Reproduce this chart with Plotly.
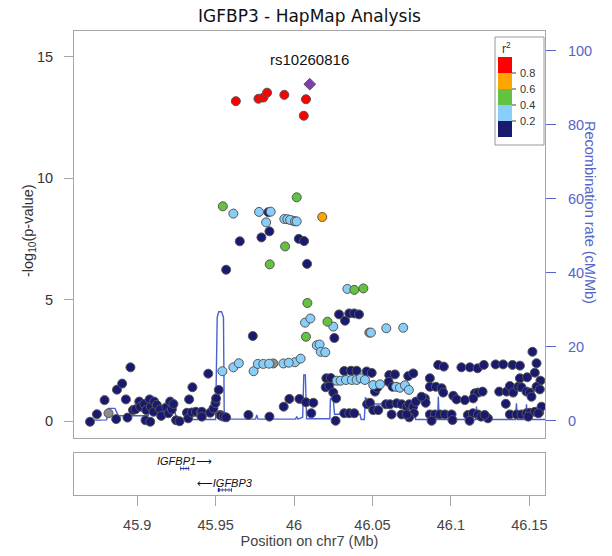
import plotly.graph_objects as go

# ---------------- data ----------------
index_snp = "rs10260816"
index_pos = [46.0100]
index_logp = [13.87]

red_pos = [45.9629, 45.9773, 45.9805, 45.9828, 45.9938, 46.0076, 46.0062]
red_logp = [13.17, 13.27, 13.32, 13.52, 13.43, 13.25, 12.57]

orange_pos = [46.0180]
orange_logp = [8.40]

green_pos = [45.9546, 46.0017, 45.9943, 45.9845, 46.0085, 46.0076, 46.0213, 46.0384, 46.0442]
green_logp = [8.84, 9.21, 7.19, 6.45, 4.86, 3.47, 4.09, 5.40, 5.46]

lblue_pos = [45.9613, 45.9777, 45.9851, 45.9822, 45.9938, 45.9957, 45.9975, 46.0006, 46.0017,
             46.0070, 46.0104, 46.0250, 46.0340, 46.0490, 46.0588, 46.0696,
             46.0145, 46.0163, 46.0170, 46.0199, 46.0006, 46.0042,
             45.9543, 45.9613, 45.9648, 45.9742, 45.9769, 45.9804, 45.9841, 45.9932, 45.9966,
             46.0272, 46.0297, 46.0331, 46.0368, 46.0399, 46.0425, 46.0452,
             46.0505, 46.0548, 46.0650, 46.0675, 46.0707, 46.0732]
lblue_logp = [8.54, 8.61, 8.62, 8.18, 8.32, 8.31, 8.28, 8.22, 8.22,
              4.05, 4.22, 3.89, 5.44, 3.64, 3.82, 3.84,
              3.12, 3.15, 2.85, 2.83, 2.42, 2.57,
              2.05, 2.21, 2.38, 2.05, 2.35, 2.35, 2.36, 2.37, 2.40,
              1.66, 1.66, 1.69, 1.69, 1.69, 1.76, 1.69,
              1.48, 1.51, 1.41, 1.37, 1.47, 1.28]

gray_pos = [45.8817, 45.9868, 46.0480]
gray_logp = [0.32, 2.37, 3.64]

navy_pos = [45.9843, 45.9654, 45.9792, 46.0030, 46.0064, 45.9567, 46.0083, 45.9836, 45.9992,
            45.9737, 46.0287, 46.0325, 46.0352, 46.0384, 46.0414, 46.0257,
            45.8699, 45.8743, 45.8792, 45.8866, 45.8871, 45.8904, 45.8928, 45.8938, 45.8957,
            45.8973, 45.8989, 45.9013, 45.9019, 45.9045, 45.9053, 45.9057, 45.9079, 45.9083,
            45.9087, 45.9104, 45.9108, 45.9125, 45.9146, 45.9153, 45.9185, 45.9199, 45.9210,
            45.9221, 45.9231, 45.9248, 45.9270, 45.9317, 45.9325, 45.9331, 45.9348, 45.9352,
            45.9374, 45.9406, 45.9408, 45.9412, 45.9412, 45.9453, 45.9465, 45.9486, 45.9499,
            45.9503, 45.9520, 45.9529, 45.9533, 45.9550, 45.9567, 45.9709, 45.9843, 45.9934,
            45.9970, 46.0034, 46.0076, 46.0110, 46.0123,
            46.0265, 46.0202, 46.0225, 46.0250, 46.0268, 46.0206, 46.0234,
            46.0320, 46.0363, 46.0399, 46.0463, 46.0495, 46.0320, 46.0352, 46.0384,
            46.0466, 46.0484, 46.0505, 46.0537, 46.0516, 46.0530, 46.0607, 46.0643, 46.0603,
            46.0628, 46.0586, 46.0611, 46.0654, 46.0686, 46.0718, 46.0734, 46.0760, 46.0777,
            46.0764, 46.0734, 46.0728, 46.0760, 46.0622, 46.0686, 46.0718,
            46.0866, 46.0866, 46.0834, 46.0839, 46.0904, 46.0941, 46.0951, 46.1015, 46.1036,
            46.0813, 46.0919, 46.0955, 46.1067, 46.1121, 46.1170, 46.1210, 46.1285, 46.1333,
            46.1393, 46.1440, 46.1520, 46.1546, 46.1440, 46.1486, 46.1535, 46.1571,
            46.1308, 46.1355, 46.1376, 46.1397, 46.1429, 46.1450, 46.1482, 46.1503, 46.1514,
            46.1546, 46.1567, 46.1153, 46.1174, 46.1202, 46.1142, 46.1089, 46.1350,
            46.0866, 46.0898, 46.0930, 46.0962, 46.0877, 46.1004, 46.1010, 46.1108, 46.1140,
            46.1172, 46.1193, 46.1119, 46.1236, 46.1215,
            46.1376, 46.1419, 46.1450, 46.1482, 46.1503, 46.1535, 46.1563, 46.1578, 46.1493, 46.1557]
navy_logp = [7.81, 7.40, 7.56, 7.50, 7.41, 6.23, 6.47, 8.60, 8.25,
             3.50, 4.39, 4.13, 4.43, 4.43, 4.39, 3.42,
             -0.03, 0.28, 0.86, 0.08, 1.29, 1.54, 0.89, 0.14, 2.21,
             0.45, 0.48, 0.80, 0.59, 0.70, 0.03, 0.45, 0.89, -0.03,
             0.59, 0.38, 0.80, 0.66, 0.48, 0.21, 0.56, 0.32, 0.80,
             0.48, 0.70, 0.03, -0.01, 0.34, 0.11, 0.89, 0.35, 1.39,
             0.38, 0.35, 0.22, 0.38, 0.18, 1.95, 0.34, 0.52, 0.74,
             0.93, 1.28, 0.25, 0.22, 0.18, 0.15, 0.25, 0.18, 0.59,
             0.91, 0.91, 0.77, 0.32, 0.75,
             0.01, 1.39, 1.44, 1.17, 0.93, 1.76, 1.77,
             2.06, 2.07, 2.07, 2.04, 1.98, 0.32, 0.32, 0.32,
             0.69, 0.75, 0.45, 0.45, 1.21, 1.37, 1.89, 1.92, 1.61,
             1.41, 0.69, 0.69, 0.73, 0.69, 0.59, 0.69, 0.59, 0.80,
             0.32, 0.15, 1.85, 1.96, 0.27, 0.27, 0.27,
             1.76, 1.41, 0.93, 0.75, 1.41, 1.35, 1.17, 1.04, 0.89,
             1.00, 2.31, 2.24, 2.21, 2.21, 2.17, 2.31, 2.33, 2.33,
             2.31, 2.28, 2.85, 2.38, 1.76, 1.80, 1.99, 1.66,
             1.21, 1.21, 1.44, 1.17, 1.41, 1.39, 1.21, 1.17, 1.00,
             1.41, 1.30, 1.14, 1.17, 1.21, 0.93, 0.86, 0.71,
             0.27, 0.27, 0.27, 0.27, 0.01, 0.27, 0.04, 0.25, 0.32,
             0.27, 0.18, 0.01, 0.11, 0.25,
             0.27, 0.27, 0.27, 0.32, 0.34, 0.38, 0.35, 0.59, 0.18, 0.32]

recomb_pos = [45.8697, 45.8805, 45.8817, 45.8858, 45.8880, 45.9070, 45.9075, 45.9242, 45.9253,
              45.9500, 45.9510, 45.9520, 45.9538, 45.9550, 45.9555, 45.9755, 45.9762, 45.9770,
              46.0010, 46.0017, 46.0025, 46.0055, 46.0062, 46.0072, 46.0080, 46.0228, 46.0232,
              46.0250, 46.0258, 46.0420, 46.0428, 46.0448, 46.0455, 46.0500, 46.0510, 46.0715,
              46.0722, 46.0770, 46.0775, 46.0915, 46.0920, 46.0925, 46.1158, 46.1163, 46.1168,
              46.1412, 46.1418, 46.1424, 46.1476, 46.1482, 46.1488, 46.1600]
recomb_rate = [0.2, 0.3, 3.4, 3.4, 1.4, 1.4, 2.2, 2.2, 0.4,
               0.4, 28.0, 29.5, 29.5, 28.0, 0.5, 0.5, 1.6, 0.5,
               0.5, 1.2, 0.5, 1.0, 12.4, 12.4, 0.6, 0.6, 6.0,
               6.0, 1.8, 1.8, 0.4, 0.4, 6.2, 5.2, 4.6, 4.6,
               1.8, 1.6, 0.4, 0.4, 6.6, 0.4, 0.4, 3.9, 0.4,
               0.4, 4.8, 0.4, 0.4, 4.5, 0.4, 0.4]

gene_names = ["IGFBP1", "IGFBP3"]
gene_start = [45.9275, 45.9514]
gene_end = [45.9331, 45.9603]
gene_strand = ["+", "-"]
gene_exons = [
    [(45.9275, 45.9280), (45.9292, 45.9295), (45.9310, 45.9313), (45.9326, 45.9331)],
    [(45.9514, 45.9526), (45.9540, 45.9543), (45.9560, 45.9563), (45.9584, 45.9587), (45.9598, 45.9603)],
]

legend_breaks = ["0.8", "0.6", "0.4", "0.2"]
x_ticks = [45.9, 45.95, 46.0, 46.05, 46.1, 46.15]
x_tick_text = ["45.9", "45.95", "46", "46.05", "46.1", "46.15"]
y_ticks = [0, 5, 10, 15]
r_ticks = [0, 20, 40, 60, 80, 100]

# ---------------- styles ----------------
C_NAVY = "#191970"
C_LBLUE = "#87CEFA"
C_GREEN = "#63c23f"
C_ORANGE = "#FFA500"
C_RED = "#FF0000"
C_GRAY = "#8c8c8c"
C_PURPLE = "#7e3fb0"
C_RECOMB = "#4a62d0"
C_RAXIS = "#5565c8"
C_GENE = "#1f2f9a"
OUTLINE = "#555555"
AXLINE = "#a6a6a6"
FONT = "Liberation Sans, Arial, sans-serif"

W, H = 612, 556
ML, MR, MT, MB = 74, 67, 31, 61
PW, PH = W - ML - MR, H - MT - MB


def px(x):
    return (x - ML) / PW


def py(y):
    return (H - MB - y) / PH


main_dom = [py(438), 1.0]
gene_dom = [0.0, py(453)]
gene_rows = [0.63, 0.12]

fig = go.Figure()

# recombination line (base subplot so that points draw above it)
fig.add_trace(go.Scatter(x=recomb_pos, y=recomb_rate, mode="lines", xaxis="x", yaxis="y",
                         line=dict(color=C_RECOMB, width=1.4), hoverinfo="skip", showlegend=False))


def pts(xs, ys, color, symbol="circle", size=9):
    fig.add_trace(go.Scatter(x=xs, y=ys, mode="markers", xaxis="x", yaxis="y2",
                             marker=dict(color=color, size=size, symbol=symbol,
                                         line=dict(color=OUTLINE, width=1)),
                             showlegend=False))


pts(navy_pos, navy_logp, C_NAVY)
pts(gray_pos, gray_logp, C_GRAY)
pts(lblue_pos, lblue_logp, C_LBLUE)
pts(green_pos, green_logp, C_GREEN)
pts(orange_pos, orange_logp, C_ORANGE)
pts(red_pos, red_logp, C_RED)
pts(index_pos, index_logp, C_PURPLE, symbol="diamond", size=9)

# genes
for i, name in enumerate(gene_names):
    r = gene_rows[i]
    fig.add_trace(go.Scatter(x=[gene_start[i], gene_end[i]], y=[r, r], mode="lines",
                             xaxis="x2", yaxis="y3", line=dict(color=C_GENE, width=1),
                             hoverinfo="skip", showlegend=False))
    ex, ey = [], []
    for s, e in gene_exons[i]:
        ex += [s, e, None]
        ey += [r, r, None]
    fig.add_trace(go.Scatter(x=ex, y=ey, mode="lines", xaxis="x2", yaxis="y3",
                             line=dict(color=C_GENE, width=4), hoverinfo="skip", showlegend=False))
    label = f"<i>{name}</i>\u27f6" if gene_strand[i] == "+" else f"\u27f5<i>{name}</i>"
    fig.add_annotation(x=(gene_start[i] + gene_end[i]) / 2, y=r + 0.17, xref="x2", yref="y3",
                       text=label, showarrow=False,
                       font=dict(family="Liberation Sans, DejaVu Sans, sans-serif", size=11, color="#111111"),
                       xanchor="center", yanchor="middle")

# index SNP label
fig.add_annotation(x=index_pos[0], y=index_logp[0] + 1.0, xref="x", yref="y2", text=index_snp,
                   showarrow=False, font=dict(family=FONT, size=15, color="#111111"),
                   yanchor="middle")

xr = [45.8597, 46.1600]

fig.update_layout(
    width=W, height=H, margin=dict(l=ML, r=MR, t=MT, b=MB, autoexpand=False),
    paper_bgcolor="white", plot_bgcolor="white",
    title=dict(text="IGFBP3 - HapMap Analysis", x=0.5, xref="paper", xanchor="center",
               y=1 - 16 / H, yanchor="middle",
               font=dict(family="DejaVu Sans, Verdana, sans-serif", size=17, color="#111111")),
    xaxis=dict(domain=[0, 1], range=xr, anchor="y", showticklabels=False, ticks="",
               showgrid=False, zeroline=False, showline=True, mirror=True, automargin=False,
               linecolor=AXLINE, linewidth=1),
    yaxis=dict(domain=main_dom, range=[-4.6, 105.3], side="right", anchor="x",
               tickvals=r_ticks, ticks="outside", ticklen=10, tickcolor=C_RAXIS,
               tickfont=dict(family=FONT, size=14.5, color=C_RAXIS), ticklabelstandoff=9,
               showgrid=False, zeroline=False, showline=False, automargin=False),
    yaxis2=dict(domain=main_dom, range=[-0.70, 16.06], side="left", overlaying="y", anchor="x",
                tickvals=y_ticks, ticks="outside", ticklen=9, tickcolor=AXLINE,
                tickfont=dict(family=FONT, size=14.5, color="#333333"), ticklabelstandoff=8,
                showgrid=False, zeroline=False, showline=True, mirror=True, automargin=False,
                linecolor=AXLINE, linewidth=1),
    xaxis2=dict(domain=[0, 1], range=xr, anchor="y3", tickvals=x_ticks, ticktext=x_tick_text,
                ticks="outside", ticklen=10, tickcolor=AXLINE, ticklabelstandoff=7,
                tickfont=dict(family=FONT, size=14.5, color="#444444"),
                title=dict(text="Position on chr7 (Mb)", standoff=3,
                           font=dict(family=FONT, size=14.5, color="#444444")),
                showgrid=False, zeroline=False, showline=True, mirror=True, automargin=False,
                linecolor=AXLINE, linewidth=1),
    yaxis3=dict(domain=gene_dom, range=[0, 1], anchor="x2", showticklabels=False, ticks="",
                showgrid=False, zeroline=False, showline=True, mirror=True, automargin=False,
                linecolor=AXLINE, linewidth=1),
    showlegend=False,
)

# axis titles
fig.add_annotation(x=px(18), y=py(231), xref="paper", yref="paper",
                   text="-log<sub>10</sub>(p-value)", textangle=-90, showarrow=False,
                   font=dict(family=FONT, size=14.5, color="#333333"))
fig.add_annotation(x=px(600), y=py(212), xref="paper", yref="paper",
                   text="Recombination rate (cM/Mb)", textangle=90, showarrow=False,
                   font=dict(family=FONT, size=14.5, color=C_RAXIS))

# r^2 legend
shapes = [dict(type="rect", xref="paper", yref="paper", x0=px(495), x1=px(544),
               y0=py(145), y1=py(37), line=dict(color="#999999", width=1), fillcolor="white")]
legend_cols = [C_RED, C_ORANGE, C_GREEN, C_LBLUE, C_NAVY]
tops = [57, 73, 89, 105, 121, 137]
for i, c in enumerate(legend_cols):
    shapes.append(dict(type="rect", xref="paper", yref="paper", x0=px(498), x1=px(512),
                       y0=py(tops[i + 1]), y1=py(tops[i]), line=dict(width=0), fillcolor=c))
for j, lab in enumerate(legend_breaks):
    yy = tops[j + 1]
    shapes.append(dict(type="line", xref="paper", yref="paper", x0=px(512), x1=px(516),
                       y0=py(yy), y1=py(yy), line=dict(color="#444444", width=1)))
    fig.add_annotation(x=px(518), y=py(yy), xref="paper", yref="paper", text=lab,
                       showarrow=False, xanchor="left", yanchor="middle",
                       font=dict(family=FONT, size=11, color="#333333"))
fig.add_annotation(x=px(513), y=py(48), xref="paper", yref="paper", text="r<sup>2</sup>",
                   showarrow=False, yanchor="middle", font=dict(family=FONT, size=12, color="#333333"))
fig.update_layout(shapes=shapes)

fig.write_html("out.html")
